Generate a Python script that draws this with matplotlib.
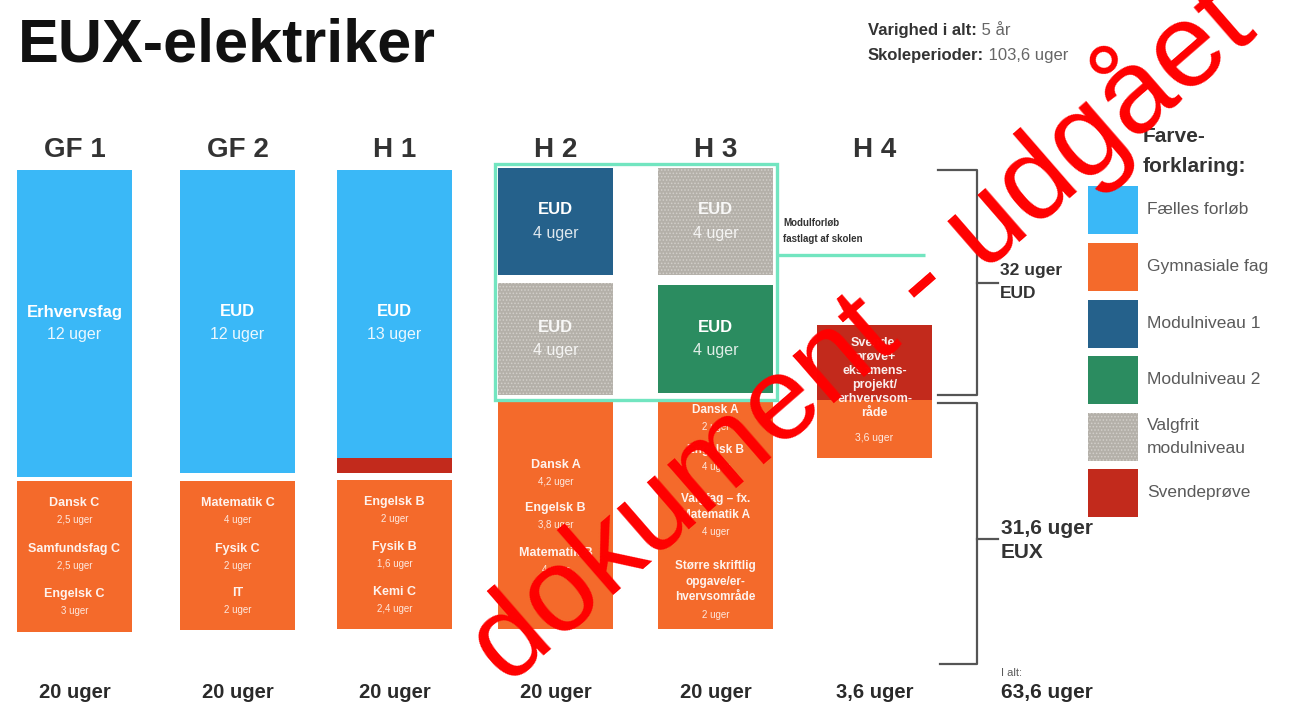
import matplotlib
matplotlib.use("Agg")
import matplotlib.pyplot as plt

plt.rcParams['font.family'] = ['Liberation Sans', 'DejaVu Sans']
plt.rcParams['hatch.linewidth'] = 0.7

# ---------------- data ----------------
title = "EUX-elektriker"
info_bold = ["Varighed i alt:", "Skoleperioder:"]
info_value = [" 5 år", " 103,6 uger"]
periods = ["GF 1", "GF 2", "H 1", "H 2", "H 3", "H 4"]
period_totals = ["20 uger", "20 uger", "20 uger", "20 uger", "20 uger", "3,6 uger"]

common_titles = ["Erhvervsfag", "EUD", "EUD"]          # GF1, GF2, H1
common_weeks = ["12 uger", "12 uger", "13 uger"]

gym_titles = [
    ["Dansk C", "Samfundsfag C", "Engelsk C"],
    ["Matematik C", "Fysik C", "IT"],
    ["Engelsk B", "Fysik B", "Kemi C"],
    ["Dansk A", "Engelsk B", "Matematik B"],
    ["Dansk A", "Engelsk B", "Valgfag – fx.\nMatematik A", "Større skriftlig\nopgave/er-\nhvervsområde"],
]
gym_weeks = [
    ["2,5 uger", "2,5 uger", "3 uger"],
    ["4 uger", "2 uger", "2 uger"],
    ["2 uger", "1,6 uger", "2,4 uger"],
    ["4,2 uger", "3,8 uger", "4 uger"],
    ["2 uger", "4 uger", "4 uger", "2 uger"],
]

module_titles = ["EUD", "EUD", "EUD", "EUD"]            # H2 top, H2 bottom, H3 top, H3 bottom
module_weeks = ["4 uger", "4 uger", "4 uger", "4 uger"]
module_kinds = ["Modulniveau 1", "Valgfrit modulniveau", "Valgfrit modulniveau", "Modulniveau 2"]

final_text = "Svende-\nprøve+\neksamens-\nprojekt/\nerhvervsom-\nråde"
final_weeks = "3,6 uger"

summary_top = "32 uger\nEUD"
summary_mid = "31,6 uger\nEUX"
summary_total_label = "I alt:"
summary_total = "63,6 uger"
fixed_note = "Modulforløb\nfastlagt af skolen"

legend_title = "Farve-\nforklaring:"
legend_labels = ["Fælles forløb", "Gymnasiale fag", "Modulniveau 1", "Modulniveau 2",
                 "Valgfrit\nmodulniveau", "Svendeprøve"]

watermark = "dokument - udgået"

# ---------------- styles ----------------
C = {
    "Fælles forløb": "#3ab8f7",
    "Gymnasiale fag": "#f46a2b",
    "Modulniveau 1": "#25618b",
    "Modulniveau 2": "#2b8c60",
    "Valgfrit modulniveau": "#b4b0a9",
    "Svendeprøve": "#c22a1c",
}
legend_colors = [C["Fælles forløb"], C["Gymnasiale fag"], C["Modulniveau 1"],
                 C["Modulniveau 2"], C["Valgfrit modulniveau"], C["Svendeprøve"]]
MINT = "#72e5c0"
GREY = "#5a5a5a"
LINE = "#555555"

# ---------------- layout (pixels) ----------------
col_left = [17, 180, 337, 498, 658, 817]
col_w = 115
col_center = [l + col_w / 2 for l in col_left]
blue_span = [(170, 477), (170, 473), (170, 458)]
h1_red = (458, 473)
gym_span = [(481, 632), (481, 630), (480, 629), (400, 629), (400, 629)]
gym_title_y = [
    [503, 549, 594],
    [503, 549, 593],
    [502, 547, 592],
    [465, 508, 553],
    [410, 450, 507, 582],
]
module_boxes = [(3, 168, 275), (3, 283, 395), (4, 168, 275), (4, 285, 393)]

fig = plt.figure(figsize=(12.9, 7.04), dpi=100)
ax = fig.add_axes([0, 0, 1, 1])
ax.set_xlim(0, 1290)
ax.set_ylim(704, 0)
ax.axis("off")


def lines_at(x, yc, text, size, weight="normal", color="white", gap=None, ha="center", alpha=1.0):
    parts = text.split("\n")
    if gap is None:
        gap = size * 1.389 * 1.15
    y0 = yc - gap * (len(parts) - 1) / 2
    for i, p in enumerate(parts):
        ax.text(x, y0 + i * gap, p, fontsize=size, fontweight=weight, color=color,
                ha=ha, va="center", alpha=alpha)


def block(ci, top, bottom, color, hatch=None):
    ax.bar(col_left[ci], bottom - top, bottom=top, width=col_w, align="edge",
           color=color, edgecolor="#d2cfca" if hatch else color, linewidth=0, hatch=hatch)


# title and info
ax.text(18, 62, title, fontsize=44, fontweight="bold", color="#111111", va="baseline")
for i, (b, v) in enumerate(zip(info_bold, info_value)):
    t = ax.text(868, 35 + 25 * i, b, fontsize=12, fontweight="bold", color="#333333", va="baseline")
    ax.annotate(v, xycoords=t, xy=(1, 0), va="bottom", fontsize=12, color="#666666")

# period headers and totals
for ci, name in enumerate(periods):
    ax.text(col_center[ci], 157, name, fontsize=20, fontweight="bold", color="#333333",
            ha="center", va="baseline")
    ax.text(col_center[ci], 698, period_totals[ci], fontsize=14.5, fontweight="bold",
            color="#2a2a2a", ha="center", va="baseline")

# common blue blocks
for ci in range(3):
    top, bot = blue_span[ci]
    block(ci, top, bot, C["Fælles forløb"])
    ax.text(col_center[ci], 312, common_titles[ci], fontsize=12, fontweight="bold",
            color="white", ha="center", va="center")
    ax.text(col_center[ci], 335, common_weeks[ci], fontsize=11.5, color="white",
            ha="center", va="center", alpha=0.9)
block(2, h1_red[0], h1_red[1], C["Svendeprøve"])

# gymnasiale blocks
for ci in range(5):
    top, bot = gym_span[ci]
    block(ci, top, bot, C["Gymnasiale fag"])
    small = ci == 4
    for t, w, y in zip(gym_titles[ci], gym_weeks[ci], gym_title_y[ci]):
        n = t.count("\n") + 1
        gap = 15.5 if small else 16
        lines_at(col_center[ci], y, t, 8.5 if small else 9, "bold", "white", gap=gap, alpha=0.92)
        ax.text(col_center[ci], y + gap * (n - 1) / 2 + 17, w, fontsize=7, color="white",
                ha="center", va="center", alpha=0.85)

# module boxes
for (ci, top, bot), t, w, kind in zip(module_boxes, module_titles, module_weeks, module_kinds):
    hatched = kind.startswith("Valgfrit")
    block(ci, top, bot, C[kind], hatch="....." if hatched else None)
    yc = (top + bot) / 2
    ax.text(col_center[ci], yc - 12, t, fontsize=12, fontweight="bold", color="white",
            ha="center", va="center", alpha=0.9 if hatched else 1)
    ax.text(col_center[ci], yc + 12, w, fontsize=11.5, color="white", ha="center",
            va="center", alpha=0.85)

# mint frame around fixed module course
ax.add_patch(plt.Rectangle((495, 164), 282, 236, fill=False, edgecolor=MINT, linewidth=2.4))
ax.plot([777, 925], [255, 255], color=MINT, linewidth=2.4, solid_capstyle="butt")
lines_at(783, 231, fixed_note, 7, "bold", "#333333", gap=17, ha="left")

# H4 final exam block
block(5, 325, 400, C["Svendeprøve"])
block(5, 400, 458, C["Gymnasiale fag"])
lines_at(col_center[5], 378, final_text, 9, "bold", "white", gap=14.2, alpha=0.92)
ax.text(col_center[5], 438, final_weeks, fontsize=7.5, color="white", ha="center",
        va="center", alpha=0.85)

# brackets
ax.plot([938, 977, 977, 938], [170, 170, 395, 395], color=LINE, lw=1.6)
ax.plot([977, 998], [283, 283], color=LINE, lw=1.6)
ax.plot([938, 977, 977, 940], [403, 403, 664, 664], color=LINE, lw=1.6)
ax.plot([977, 998], [539, 539], color=LINE, lw=1.6)
lines_at(1000, 282, summary_top, 12.5, "bold", "#333333", gap=23, ha="left")
lines_at(1001, 540, summary_mid, 15, "bold", "#333333", gap=24, ha="left")
ax.text(1001, 673, summary_total_label, fontsize=8, color=GREY, ha="left", va="center")
ax.text(1001, 698, summary_total, fontsize=15, fontweight="bold", color="#2a2a2a",
        ha="left", va="baseline")

# legend
lines_at(1143, 152, legend_title, 15, "bold", "#333333", gap=30, ha="left")
sw_tops = [186, 243, 300, 356, 413, 469]
for i, (lab, col) in enumerate(zip(legend_labels, legend_colors)):
    hatched = lab.startswith("Valgfrit")
    ax.bar(1088, 48, bottom=sw_tops[i], width=50, align="edge", color=col,
           edgecolor="#d2cfca" if hatched else col, linewidth=0,
           hatch="....." if hatched else None)
    lines_at(1147, sw_tops[i] + 24, lab, 12.5, "normal", GREY, gap=23, ha="left")

# watermark
ax.text(860, 334, watermark, fontsize=86, color="#ff0000", rotation=41,
        rotation_mode="anchor", ha="center", va="center")

fig.savefig("out.png", dpi=100)
